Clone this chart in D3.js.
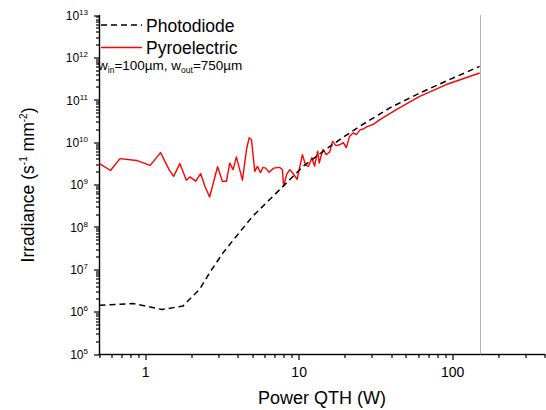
<!DOCTYPE html>
<html>
<head>
<meta charset="utf-8">
<script src="https://cdn.jsdelivr.net/npm/d3@7"></script>
<style>
body { margin: 0; background: #fff; }
svg { display: block; font-family: "Liberation Sans", Arial, sans-serif; }
</style>
</head>
<body>
<div id="chart"></div>
<script>
// Photodiode (dashed black)
var photoPower = [0.5, 0.83, 1.28, 1.75, 2.25, 2.61, 3.19, 3.9, 5.0, 6.45, 7.86, 10.6, 15.8, 24.9, 39, 61, 96, 150];
var photoIrr = [1.45e6, 1.6e6, 1.15e6, 1.4e6, 3.5e6, 8.5e6, 2.5e7, 6.2e7, 1.86e8, 4.6e8, 9.3e8, 2.75e9, 8.1e9, 2.45e10, 6.6e10, 1.48e11, 3.1e11, 6.3e11];

// Pyroelectric (solid red)
var pyroPower = [0.5, 0.59, 0.68, 0.87, 1.07, 1.25, 1.42, 1.52, 1.67, 1.84, 1.94, 2.12, 2.28, 2.43, 2.61,
    2.94, 3.16, 3.36, 3.53, 3.71, 3.9, 4.27, 4.54, 4.72, 4.89, 5.14, 5.35, 5.6, 5.8, 6.05, 6.37, 6.83,
    7.48, 7.78, 7.92, 8.3, 8.7, 9.2, 9.7, 10.5, 11.0, 11.5, 12.1, 12.6, 13.2, 13.5, 14.3, 15.0, 15.8,
    16.5, 17.4, 18.4, 19.4, 20.3, 21.3, 22.5, 23.6, 24.9, 26.2, 27.5, 30.4, 33.6, 43, 61, 91, 150];
var pyroIrr = [3.2e9, 2.2e9, 4.2e9, 3.8e9, 2.9e9, 5.8e9, 2.3e9, 1.6e9, 3.2e9, 1.3e9, 1.55e9, 1.23e9, 1.86e9, 9.3e8, 5.2e8,
    2.7e9, 1.23e9, 1.23e9, 3.3e9, 2.3e9, 4.6e9, 1.3e9, 6.9e9, 1.3e10, 1.17e10, 2.1e9, 2.75e9, 1.95e9, 2.6e9, 2.5e9, 2.0e9, 2.5e9,
    2.6e9, 2.3e9, 9.3e8, 1.8e9, 2.3e9, 1.8e9, 1.35e9, 5.2e9, 3.0e9, 2.75e9, 4.4e9, 2.8e9, 6.3e9, 3.3e9, 6.9e9, 5.2e9, 6.0e9,
    1.07e10, 8.5e9, 8.9e9, 1.0e10, 7.6e9, 1.4e10, 1.7e10, 1.55e10, 2.0e10, 2.1e10, 2.35e10, 2.7e10, 3.5e10, 6.0e10, 1.23e11, 2.35e11, 4.4e11];

var xMajor = [1, 10, 100];
var xLabels = ["1", "10", "100"];
var yMajor = [1e5, 1e6, 1e7, 1e8, 1e9, 1e10, 1e11, 1e12, 1e13];
var yExp = ["5", "6", "7", "8", "9", "10", "11", "12", "13"];
var cutoffPower = 150;

var width = 546, height = 410;

var svg = d3.select("#chart").append("svg")
    .attr("width", width)
    .attr("height", height);

var x = d3.scaleLog().domain([0.5, 400]).range([99.5, 545]);
var y = d3.scaleLog().domain([1e5, 1e13]).range([354.5, 15.5]);

// minor ticks: the 2..9 multiples the log scale gives us
var xMinor = x.ticks().filter(function (d) { return xMajor.indexOf(d) < 0; });
var yMinor = y.ticks().filter(function (d) { return yMajor.indexOf(d) < 0; });

// tick marks as thin rects so the major/minor lengths differ
var axes = svg.append("g").attr("fill", "#000");
axes.selectAll(".xminor").data(xMinor).enter().append("rect")
    .attr("x", function (d) { return Math.round(x(d)) - 0.6; })
    .attr("y", 354).attr("width", 1.2).attr("height", 4);
axes.selectAll(".xmajor").data(xMajor).enter().append("rect")
    .attr("x", function (d) { return Math.round(x(d)) - 0.6; })
    .attr("y", 354).attr("width", 1.2).attr("height", 6);
axes.selectAll(".yminor").data(yMinor).enter().append("rect")
    .attr("y", function (d) { return Math.round(y(d)) - 0.6; })
    .attr("x", 96).attr("width", 4).attr("height", 1.2);
axes.selectAll(".ymajor").data(yMajor).enter().append("rect")
    .attr("y", function (d) { return Math.round(y(d)) - 0.6; })
    .attr("x", 94).attr("width", 6).attr("height", 1.2);

// axis lines
axes.append("rect").attr("x", 98.8).attr("y", 353.8).attr("width", 446.2).attr("height", 1.4);
axes.append("rect").attr("x", 98.8).attr("y", 15).attr("width", 1.4).attr("height", 340);

// tick labels
svg.selectAll(".xlab").data(xMajor).enter().append("text")
    .attr("x", function (d) { return x(d); })
    .attr("y", 376.5)
    .attr("text-anchor", "middle")
    .attr("font-size", 14)
    .text(function (d, i) { return xLabels[i]; });

svg.selectAll(".ylab").data(yMajor).enter().append("text")
    .attr("x", 88)
    .attr("y", function (d) { return y(d) + 4.3; })
    .attr("text-anchor", "end")
    .attr("font-size", 12)
    .each(function (d, i) {
        var t = d3.select(this);
        t.append("tspan").text("10");
        t.append("tspan").attr("font-size", 8).attr("dy", -5).text(yExp[i]);
    });

// cut-off marker
svg.append("line")
    .attr("x1", Math.round(x(cutoffPower)) + 0.5).attr("x2", Math.round(x(cutoffPower)) + 0.5)
    .attr("y1", y(1e13)).attr("y2", y(1e5))
    .attr("stroke", "#666")
    .attr("stroke-width", 1)
    .attr("stroke-dasharray", "1,1");

var line = d3.line()
    .x(function (d) { return x(d[0]); })
    .y(function (d) { return y(d[1]); });

var photo = photoPower.map(function (p, i) { return [p, photoIrr[i]]; });
var pyro = pyroPower.map(function (p, i) { return [p, pyroIrr[i]]; });

svg.append("path")
    .datum(pyro)
    .attr("d", line)
    .attr("fill", "none")
    .attr("stroke", "#ff0000")
    .attr("stroke-width", 1.4)
    .attr("stroke-linejoin", "round");

svg.append("path")
    .datum(photo)
    .attr("d", line)
    .attr("fill", "none")
    .attr("stroke", "#000")
    .attr("stroke-width", 1.5)
    .attr("stroke-dasharray", "6,4");

// legend
var legend = svg.append("g");
legend.append("line")
    .attr("x1", 101).attr("x2", 142).attr("y1", 25).attr("y2", 25)
    .attr("stroke", "#000").attr("stroke-width", 1.5).attr("stroke-dasharray", "6,4");
legend.append("text")
    .attr("x", 146).attr("y", 31.5)
    .attr("font-size", 17.5)
    .text("Photodiode");
legend.append("line")
    .attr("x1", 101).attr("x2", 142).attr("y1", 47.5).attr("y2", 47.5)
    .attr("stroke", "#ff0000").attr("stroke-width", 1.4);
legend.append("text")
    .attr("x", 146).attr("y", 54)
    .attr("font-size", 17.5)
    .text("Pyroelectric");

var note = svg.append("text")
    .attr("x", 98).attr("y", 70)
    .attr("font-size", 13.5);
note.append("tspan").text("w");
note.append("tspan").attr("font-size", 8.5).attr("dy", 3).text("in");
note.append("tspan").attr("dy", -3).text("=100\u00b5m, w");
note.append("tspan").attr("font-size", 8.5).attr("dy", 3).text("out");
note.append("tspan").attr("dy", -3).text("=750\u00b5m");

// axis titles
svg.append("text")
    .attr("x", 322).attr("y", 404)
    .attr("text-anchor", "middle")
    .attr("font-size", 18)
    .text("Power QTH (W)");

var yTitle = svg.append("text")
    .attr("transform", "translate(33.5,185) rotate(-90)")
    .attr("text-anchor", "middle")
    .attr("font-size", 17.5);
yTitle.append("tspan").text("Irradiance (s");
yTitle.append("tspan").attr("font-size", 10).attr("dy", -7).text("-1");
yTitle.append("tspan").attr("dy", 7).text(" mm");
yTitle.append("tspan").attr("font-size", 10).attr("dy", -7).text("-2");
yTitle.append("tspan").attr("dy", 7).text(")");
</script>
</body>
</html>
